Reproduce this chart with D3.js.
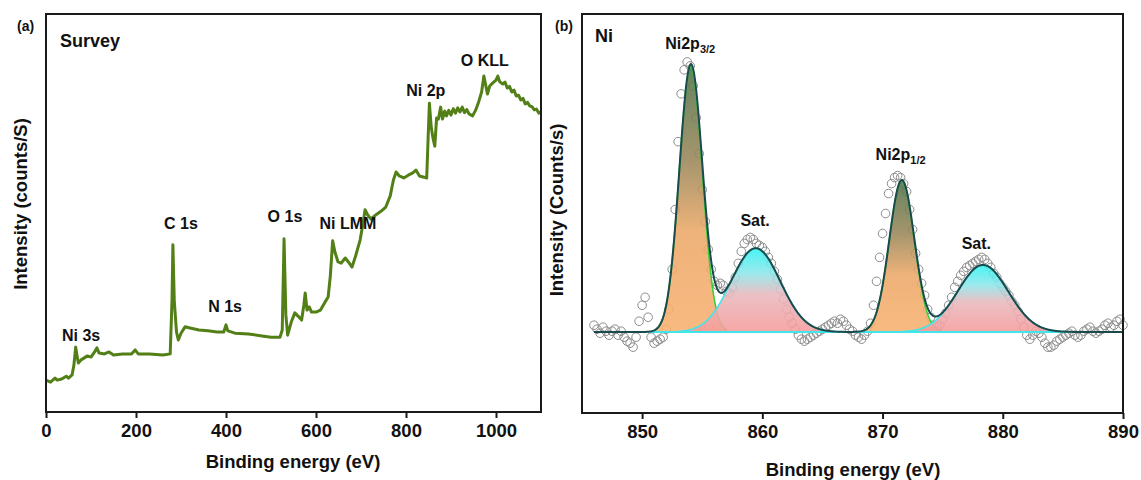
<!DOCTYPE html>
<html>
<head>
<meta charset="utf-8">
<script src="https://cdn.jsdelivr.net/npm/d3@7"></script>
<style>
  body { margin: 0; background: #fff; }
  text { font-family: "Liberation Sans", Arial, sans-serif; font-weight: bold; fill: #111; }
</style>
</head>
<body>
<div id="vis"></div>
<script>
var width = 1141, height = 480;

// ---- panel (a): survey spectrum ----
var surveyEnergy = [0, 10, 20, 25, 35, 45, 50, 58, 62, 66, 69, 72, 78, 85, 92, 100, 108, 113, 118, 130,
  140, 150, 170, 190, 198, 205, 230, 260, 276, 280, 282, 285, 290, 294, 300, 309, 320, 340, 360, 380,
  395, 400, 404, 420, 450, 480, 500, 520, 525, 529, 533, 537, 545, 553, 560, 568, 573, 576, 580, 585,
  590, 600, 610, 620, 627, 632, 637, 642, 649, 656, 665, 672, 680, 688, 698, 705, 709, 715, 722, 735,
  745, 755, 765, 772, 778, 785, 795, 805, 815, 822, 830, 840, 846, 849, 852, 856, 860, 864, 868, 872,
  877, 881, 886, 890, 895, 900, 905, 910, 915, 920, 925, 930, 935, 940, 948, 955, 962, 968, 973, 977,
  981, 986, 993, 1000, 1004, 1008, 1015, 1020, 1025, 1030, 1035, 1040, 1045, 1050, 1055, 1060, 1065,
  1070, 1075, 1080, 1085, 1090, 1095, 1100];
var surveyCounts = [8.0, 7.5, 8.5, 8.0, 8.3, 9.0, 8.5, 9.3, 11.8, 16.3, 14.1, 12.3, 13.1, 13.6, 14.1, 13.8, 15.1, 16.1, 14.8, 14.6,
  15.1, 14.3, 14.6, 14.6, 15.6, 14.6, 14.6, 14.3, 14.6, 28, 42, 28, 20.1, 18.1, 19.8, 21.4, 21.1, 20.6, 20.4, 20.1,
  20.1, 21.9, 20.4, 19.8, 19.6, 19.1, 18.8, 18.8, 20.6, 43.5, 24.4, 19.3, 22.6, 24.9, 24.1, 23.1, 26.9, 29.9, 25.6, 26.4,
  25.1, 25.1, 25.6, 27.6, 28.9, 34.4, 43.0, 40.2, 37.7, 37.4, 38.7, 37.7, 36.4, 39.2, 43.2, 47.7, 50.8, 49.5, 48.5, 49.7,
  50.5, 51.5, 54.3, 58.3, 60.3, 59.3, 58.8, 59.5, 60.1, 60.8, 59.3, 59.0, 58.8, 68.3, 77.6, 71.6, 68.8, 66.8, 73.9, 73.6,
  76.6, 73.6, 75.6, 74.4, 75.8, 74.6, 76.2, 75.1, 76.4, 75.4, 76.6, 75.2, 76.0, 74.9, 74.4, 75.9, 78.1, 80.4, 84.4, 82.2,
  79.9, 81.9, 82.7, 83.4, 84.4, 83.0, 82.4, 82.9, 81.4, 81.8, 80.4, 80.9, 79.4, 79.6, 78.4, 78.8, 77.4,
  77.8, 76.9, 76.7, 75.9, 76.1, 75.1, 75.4];
var surveyTicks = [0, 200, 400, 600, 800, 1000];
var surveyLabels = [
  {t: "Ni 3s", e: 78}, {t: "C 1s", e: 300}, {t: "N 1s", e: 398}, {t: "O 1s", e: 531},
  {t: "Ni LMM", e: 671}, {t: "Ni 2p", e: 844}, {t: "O KLL", e: 975}
];
var surveyLabelY = [17.8, 46.0, 25.2, 47.8, 46.0, 79.4, 87.0];

// ---- panel (b): Ni 2p high resolution, 0.25 eV steps from 846 eV ----
var niStart = 846, niStep = 0.25;
var niCounts = [22, 21, 20, 21.5, 20.5, 19.5, 20.5, 21, 19.5, 20.5, 19, 18, 17.5, 16.5, 19, 23, 27, 29, 24, 19,
  17.5, 18, 18.5, 19, 21, 26, 36, 51, 68, 80, 86, 88, 87, 82, 74, 65, 56, 48, 41, 36,
  33, 32, 32.5, 32, 30.5, 30, 31.5, 34, 37.5, 40.5, 42.5, 43.5, 44, 43.5, 42.5, 42, 41.5, 40.5, 39, 37.5,
  35.5, 33.5, 31, 28.5, 26, 24, 22.5, 21, 19.5, 18.5, 18, 18.5, 19, 19.5, 20, 20.5, 21, 21.5, 22, 22.5,
  23, 22.5, 23.5, 23, 22, 21, 20.5, 19.5, 19, 18.5, 19.5, 20.5, 22.5, 27, 33, 39, 45, 50, 55, 57.5,
  59, 59.5, 59, 57.5, 55.5, 51, 46, 40, 36, 32.5, 29.5, 26, 24, 22, 21.5, 22, 23.5, 25, 27, 29,
  31.5, 33, 34.5, 35.5, 36.5, 37, 37.5, 38, 38.5, 39, 38.5, 37.5, 36.5, 35, 34, 32.5, 31.5, 30.5, 29.5, 28,
  27, 25.5, 23.5, 21.5, 19.5, 18.5, 19.5, 20.5, 20, 19, 17.5, 16.5, 16.5, 17, 18, 18.5, 19, 19.5, 20, 20.5,
  19.5, 19, 19.5, 20.5, 21, 21.5, 20.5, 20, 20.5, 21, 22, 22.5, 21.5, 22, 23, 23.5, 22];
// fitted components (center eV, FWHM eV, height above background)
var peakNames = ["Ni2p3/2", "Sat.", "Ni2p1/2", "Sat."];
var peakCenter = [854.05, 859.45, 871.6, 878.35];
var peakFwhm = [2.25, 4.8, 2.45, 4.95];
var peakHeight = [66.5, 21, 38, 16.8];
var peakKind = ["main", "sat", "main", "sat"];
var background = 20.3;
var niTicks = [850, 860, 870, 880, 890];

var svg = d3.select("#vis").append("svg").attr("width", width).attr("height", height);

var defs = svg.append("defs");
var gMain = defs.append("linearGradient").attr("id", "gradMain").attr("x1", 0).attr("y1", 0).attr("x2", 0).attr("y2", 1);
gMain.append("stop").attr("offset", 0).attr("stop-color", "#4d7349");
gMain.append("stop").attr("offset", 0.35).attr("stop-color", "#998658");
gMain.append("stop").attr("offset", 0.62).attr("stop-color", "#eba867");
gMain.append("stop").attr("offset", 1).attr("stop-color", "#f8b070");
var gSat = defs.append("linearGradient").attr("id", "gradSat").attr("x1", 0).attr("y1", 0).attr("x2", 0).attr("y2", 1);
gSat.append("stop").attr("offset", 0).attr("stop-color", "#2ff3f3");
gSat.append("stop").attr("offset", 0.3).attr("stop-color", "#8ee6ea");
gSat.append("stop").attr("offset", 0.55).attr("stop-color", "#e8b8bd");
gSat.append("stop").attr("offset", 1).attr("stop-color", "#f69b9b");

function frame(x, y) {
  var r = x.range(), d = y.range();
  svg.append("rect")
    .attr("x", r[0]).attr("y", d[1])
    .attr("width", r[1] - r[0]).attr("height", d[0] - d[1])
    .attr("fill", "none").attr("stroke", "#1a1a1a").attr("stroke-width", 2);
}

function xAxis(x, y, ticks) {
  var ax = svg.append("g")
    .attr("transform", "translate(0," + y.range()[0] + ")")
    .call(d3.axisBottom(x).tickValues(ticks).tickSize(6).tickPadding(6).tickFormat(d3.format("d")));
  ax.select(".domain").remove();
  ax.selectAll(".tick line").attr("stroke", "#1a1a1a").attr("stroke-width", 2);
  ax.selectAll(".tick text").style("font-size", "18.5px").style("font-family", "Liberation Sans, Arial, sans-serif")
    .style("font-weight", "bold").attr("fill", "#111");
}

// ================= panel (a) =================
var xa = d3.scaleLinear().domain([0, 1100]).range([46, 541]);
var ya = d3.scaleLinear().domain([0, 100]).range([412, 14]);

var surveyData = surveyEnergy.map(function(e, i) { return [e, surveyCounts[i]]; });
svg.append("path")
  .datum(surveyData)
  .attr("fill", "none")
  .attr("stroke", "#527f16")
  .attr("stroke-width", 3)
  .attr("stroke-linejoin", "round")
  .attr("d", d3.line().x(function(d) { return xa(d[0]); }).y(function(d) { return ya(d[1]); }));

frame(xa, ya);
xAxis(xa, ya, surveyTicks);

svg.selectAll(".alab").data(surveyLabels).enter().append("text")
  .attr("x", function(d) { return xa(d.e); })
  .attr("y", function(d, i) { return ya(surveyLabelY[i]); })
  .attr("text-anchor", "middle")
  .style("font-size", "16px")
  .text(function(d) { return d.t; });

svg.append("text").attr("x", 17).attr("y", 31).style("font-size", "14px").text("(a)");
svg.append("text").attr("x", 60).attr("y", 47).style("font-size", "18px").text("Survey");
svg.append("text").attr("x", 293).attr("y", 468).attr("text-anchor", "middle")
  .style("font-size", "18.5px").text("Binding energy (eV)");
svg.append("text").attr("transform", "translate(27,204) rotate(-90)").attr("text-anchor", "middle")
  .style("font-size", "18.5px").text("Intensity (counts/S)");

// ================= panel (b) =================
var xb = d3.scaleLinear().domain([845, 890]).range([582, 1123]);
var yb = d3.scaleLinear().domain([0, 100]).range([413, 14]);

var niData = niCounts.map(function(c, i) { return [niStart + i * niStep, c]; });
var grid = d3.range(846, 890.001, 0.05);

function gauss(e, k) {
  var s = peakFwhm[k] / 2.3548;
  return peakHeight[k] * Math.exp(-0.5 * Math.pow((e - peakCenter[k]) / s, 2));
}

// experimental points
svg.append("g").selectAll("circle").data(niData).enter().append("circle")
  .attr("cx", function(d) { return xb(d[0]); })
  .attr("cy", function(d) { return yb(d[1]); })
  .attr("r", 4.3)
  .attr("fill", "none")
  .attr("stroke", "#8c8c8c")
  .attr("stroke-width", 1);

// component fills
var area = d3.area()
  .x(function(d) { return xb(d[0]); })
  .y0(yb(background))
  .y1(function(d) { return yb(background + d[1]); });
var lineComp = d3.line()
  .x(function(d) { return xb(d[0]); })
  .y(function(d) { return yb(background + d[1]); });

peakCenter.forEach(function(c, k) {
  var s = peakFwhm[k] / 2.3548;
  var pts = grid.filter(function(e) { return Math.abs(e - c) <= 3.2 * s; })
    .map(function(e) { return [e, gauss(e, k)]; });
  svg.append("path").datum(pts)
    .attr("fill", peakKind[k] === "main" ? "url(#gradMain)" : "url(#gradSat)")
    .attr("fill-opacity", 0.88)
    .attr("d", area);
  svg.append("path").datum(pts)
    .attr("fill", "none")
    .attr("stroke", peakKind[k] === "main" ? "#3ccf3c" : "#3fe6ec")
    .attr("stroke-width", 1.6)
    .attr("d", lineComp);
});

// background line
svg.append("line")
  .attr("x1", xb(846)).attr("x2", xb(890))
  .attr("y1", yb(background)).attr("y2", yb(background))
  .attr("stroke", "#3fe6ec").attr("stroke-width", 2.2);

// envelope
var env = grid.map(function(e) {
  var s = 0;
  for (var k = 0; k < peakCenter.length; k++) s += gauss(e, k);
  return [e, s];
});
svg.append("path").datum(env)
  .attr("fill", "none")
  .attr("stroke", "#1b4a4c")
  .attr("stroke-width", 2)
  .attr("d", lineComp);

frame(xb, yb);
xAxis(xb, yb, niTicks);

// labels panel b
function subLabel(x, y, main, sub) {
  var t = svg.append("text").attr("x", x).attr("y", y).attr("text-anchor", "middle").style("font-size", "16px");
  t.append("tspan").text(main);
  t.append("tspan").attr("dy", 4).style("font-size", "11px").text(sub);
}
subLabel(xb(854.0), 49, "Ni2p", "3/2");
subLabel(xb(871.5), 160, "Ni2p", "1/2");
svg.append("text").attr("x", xb(859.4)).attr("y", 226).attr("text-anchor", "middle").style("font-size", "16px").text("Sat.");
svg.append("text").attr("x", xb(877.8)).attr("y", 249).attr("text-anchor", "middle").style("font-size", "16px").text("Sat.");

svg.append("text").attr("x", 555).attr("y", 31).style("font-size", "14px").text("(b)");
svg.append("text").attr("x", 595).attr("y", 42).style("font-size", "18px").text("Ni");
svg.append("text").attr("x", 853).attr("y", 476).attr("text-anchor", "middle")
  .style("font-size", "18.5px").text("Binding energy (eV)");
svg.append("text").attr("transform", "translate(563,210) rotate(-90)").attr("text-anchor", "middle")
  .style("font-size", "18.5px").text("Intensity (Counts/s)");
</script>
</body>
</html>
